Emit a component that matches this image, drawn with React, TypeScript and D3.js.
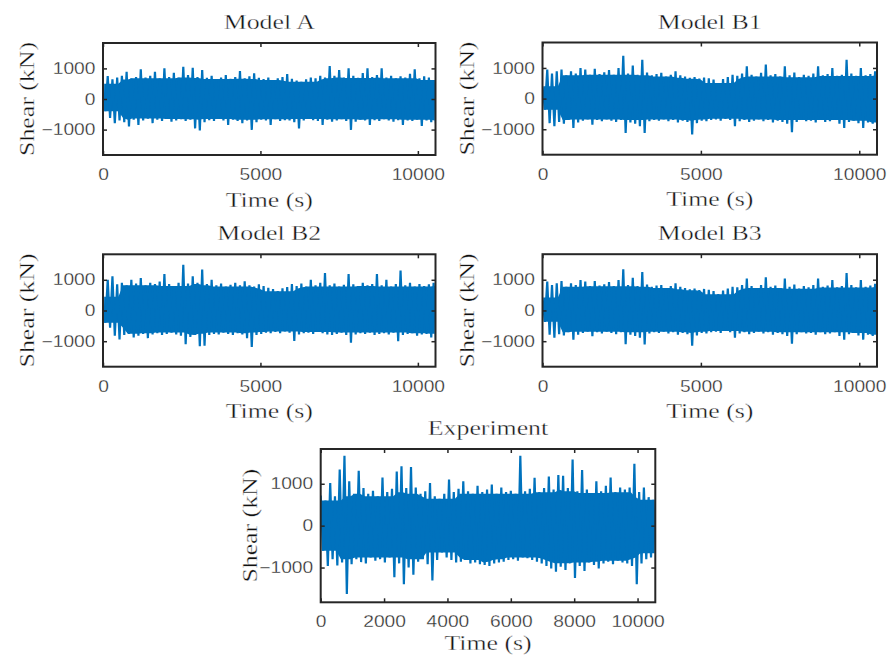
import React, { useRef, useEffect } from "react";
import * as d3 from "d3";

// each value is the max / min of the signal over one 150 s window
const binStep = 150;

const modelAHi = [500, 750, 640, 700, 760, 890, 680, 720, 970, 700, 760, 890, 680, 1000, 720, 860, 700, 1050, 780, 1020, 720, 950, 690, 760, 650, 700, 780, 660, 720, 910, 680, 740, 840, 690, 650, 700, 620, 680, 720, 815, 660, 600, 565, 640, 700, 680, 760, 700, 1075, 760, 950, 700, 1000, 760, 690, 850, 1000, 720, 780, 1000, 700, 760, 680, 740, 700, 820, 970, 680, 740, 700, 620];
const modelALo = [-400, -620, -790, -700, -760, -900, -680, -850, -700, -640, -790, -680, -720, -650, -740, -700, -660, -720, -680, -960, -1030, -760, -690, -720, -650, -700, -850, -680, -720, -790, -700, -1010, -760, -680, -700, -850, -660, -720, -690, -700, -760, -960, -700, -650, -690, -720, -850, -680, -740, -700, -660, -720, -1010, -740, -680, -700, -850, -690, -720, -660, -700, -740, -690, -850, -700, -720, -680, -880, -700, -760, -800];

const modelB1Hi = [400, 950, 820, 890, 950, 760, 890, 820, 1000, 950, 780, 970, 800, 860, 930, 780, 1000, 1400, 820, 1075, 780, 1270, 850, 760, 800, 840, 720, 780, 890, 760, 720, 680, 700, 650, 690, 660, 620, 510, 640, 700, 780, 740, 820, 1050, 780, 720, 840, 1110, 760, 800, 720, 1050, 760, 850, 700, 780, 740, 820, 1050, 760, 800, 1000, 740, 780, 1270, 820, 740, 1000, 760, 800, 890];
const modelB1Lo = [-360, -800, -900, -760, -820, -700, -960, -780, -720, -680, -850, -700, -740, -680, -720, -760, -700, -1120, -780, -820, -900, -1120, -740, -700, -720, -680, -740, -700, -780, -720, -760, -1170, -800, -720, -740, -700, -680, -720, -660, -700, -900, -740, -700, -760, -720, -680, -740, -700, -780, -720, -760, -820, -1100, -760, -700, -740, -720, -780, -700, -760, -740, -700, -820, -960, -760, -720, -800, -960, -780, -820, -850];

const modelB2Hi = [450, 1000, 1110, 850, 900, 820, 1000, 880, 1060, 820, 900, 860, 940, 1190, 860, 800, 900, 1490, 880, 1110, 900, 1330, 860, 1000, 820, 880, 780, 840, 900, 820, 950, 820, 780, 850, 800, 740, 700, 630, 720, 760, 860, 800, 880, 780, 1000, 820, 900, 1220, 820, 880, 780, 840, 1190, 850, 800, 900, 820, 860, 1190, 820, 1000, 780, 860, 1300, 820, 900, 780, 860, 800, 850, 900];
const modelB2Lo = [-400, -560, -820, -940, -800, -760, -880, -820, -760, -900, -780, -740, -800, -760, -720, -780, -820, -1100, -860, -800, -1160, -1150, -800, -760, -780, -720, -760, -800, -740, -780, -900, -1190, -800, -760, -720, -740, -700, -740, -680, -720, -990, -780, -740, -720, -760, -700, -740, -780, -800, -760, -720, -800, -1050, -780, -740, -760, -720, -800, -760, -740, -780, -720, -1000, -800, -760, -740, -820, -780, -760, -880, -990];

const modelB3Hi = [420, 940, 830, 880, 960, 770, 880, 830, 990, 940, 790, 960, 810, 850, 920, 790, 990, 1340, 830, 1060, 790, 1250, 840, 770, 810, 830, 730, 790, 880, 770, 730, 690, 710, 660, 700, 670, 630, 530, 650, 710, 770, 750, 830, 1040, 790, 730, 830, 1080, 770, 810, 730, 1040, 770, 840, 710, 790, 750, 830, 1040, 770, 810, 990, 750, 790, 1220, 830, 750, 990, 770, 810, 870];
const modelB3Lo = [-370, -790, -890, -770, -810, -710, -950, -790, -730, -690, -840, -710, -750, -690, -730, -770, -710, -1100, -790, -830, -890, -1110, -750, -710, -730, -690, -750, -710, -790, -730, -770, -1150, -810, -730, -750, -710, -690, -730, -670, -710, -890, -750, -710, -770, -730, -690, -750, -710, -790, -730, -770, -830, -1080, -770, -710, -750, -730, -790, -710, -770, -750, -710, -830, -950, -770, -730, -810, -950, -790, -830, -840];

const experimentHi = [720, 600, 1020, 700, 1340, 1670, 1060, 760, 1310, 900, 760, 830, 700, 1150, 800, 880, 1290, 1420, 900, 1400, 910, 760, 820, 1020, 700, 640, 760, 1100, 800, 880, 1060, 820, 760, 950, 800, 860, 980, 760, 910, 800, 830, 760, 1670, 820, 880, 1140, 800, 900, 1170, 860, 1210, 1190, 900, 1580, 820, 1330, 860, 780, 1060, 820, 950, 1150, 800, 910, 860, 910, 1480, 800, 910, 680, 620];
const experimentLo = [-600, -960, -800, -950, -880, -1630, -920, -800, -870, -900, -760, -840, -800, -880, -760, -1230, -900, -1400, -1000, -1170, -860, -800, -920, -1310, -820, -640, -760, -820, -880, -860, -820, -900, -880, -920, -940, -960, -900, -880, -860, -820, -800, -840, -760, -780, -820, -860, -900, -960, -1020, -1100, -980, -1060, -900, -1250, -960, -1080, -880, -940, -1020, -900, -860, -920, -840, -880, -900, -960, -1400, -900, -800, -760, -660];

const modelXTicks = [0, 5000, 10000];
const experimentXTicks = [0, 2000, 4000, 6000, 8000, 10000];
const yTicks = [-1000, 0, 1000];
const xDomain = [0, 10560];
const yDomain = [-1830, 1830];

const titles = ["Model A", "Model B1", "Model B2", "Model B3", "Experiment"];
const xLabel = "Time (s)";
const yLabel = "Shear (kN)";

const W = 891;
const H = 657;
const blue = "#0072BD";
const axisColor = "#262626";
const serif = "'Liberation Serif', 'Times New Roman', serif";
const sans = "'Liberation Sans', Arial, sans-serif";

const panels = [
  { title: titles[0], hi: modelAHi, lo: modelALo, xTicks: modelXTicks, left: 103, top: 43, w: 332.5, h: 112, xlGap: 51.5, ylGap: 69.5 },
  { title: titles[1], hi: modelB1Hi, lo: modelB1Lo, xTicks: modelXTicks, left: 542.5, top: 42.5, w: 334.5, h: 112.2, xlGap: 51.5, ylGap: 69 },
  { title: titles[2], hi: modelB2Hi, lo: modelB2Lo, xTicks: modelXTicks, left: 103, top: 254.3, w: 332.5, h: 112.4, xlGap: 51.5, ylGap: 69.5 },
  { title: titles[3], hi: modelB3Hi, lo: modelB3Lo, xTicks: modelXTicks, left: 542.5, top: 254.2, w: 334.5, h: 112.5, xlGap: 51.5, ylGap: 69 },
  { title: titles[4], hi: experimentHi, lo: experimentLo, xTicks: experimentXTicks, left: 320.7, top: 449, w: 334.6, h: 153.3, xlGap: 47.5, ylGap: 64 },
];

function App() {
  const ref = useRef<SVGSVGElement>(null);

  useEffect(() => {
    const svg = d3.select(ref.current);
    svg.selectAll("*").remove();
    svg.append("rect").attr("width", W).attr("height", H).attr("fill", "#fff");

    panels.forEach((p, k) => {
      const x = d3.scaleLinear().domain(xDomain).range([0, p.w]);
      const y = d3.scaleLinear().domain(yDomain).range([p.h, 0]);
      const g = svg.append("g").attr("transform", `translate(${p.left},${p.top})`);

      const clipId = `clip${k}`;
      g.append("clipPath").attr("id", clipId)
        .append("rect").attr("width", p.w).attr("height", p.h);

      const plot = g.append("g").attr("clip-path", `url(#${clipId})`);

      // solid core: the band that every window within +-3 reaches
      const n = p.hi.length;
      const core = p.hi.map((v, i) => {
        const win = d3.range(Math.max(0, i - 3), Math.min(n, i + 4));
        return {
          t: i * binStep + binStep / 4,
          top: d3.min(win, j => p.hi[j]),
          bot: d3.max(win, j => p.lo[j]),
        };
      });
      const area = d3.area<any>().x(d => x(d.t)).y0(d => y(d.bot)).y1(d => y(d.top));
      plot.append("path").attr("d", area(core)).attr("fill", blue);

      // zig-zag between the window max and min gives the spikes
      const pts: [number, number][] = [];
      p.hi.forEach((v, i) => {
        pts.push([i * binStep, v]);
        pts.push([i * binStep + binStep / 2, p.lo[i]]);
      });
      const line = d3.line<[number, number]>().x(d => x(d[0])).y(d => y(d[1]));
      plot.append("path")
        .attr("d", line(pts))
        .attr("fill", "none")
        .attr("stroke", blue)
        .attr("stroke-width", 2.2);

      const styleTicks = (sel, labels) => {
        sel.select(".domain").remove();
        sel.selectAll("line").attr("stroke", axisColor).attr("stroke-width", 1.5);
        if (labels) {
          sel.selectAll("text")
            .attr("fill", axisColor)
            .attr("font-family", sans)
            .attr("font-weight", "normal")
            .attr("font-size", 16)
            .attr("stroke", "#fff")
            .attr("stroke-width", 0.3)
            .attr("transform", "scale(1.2,1)");
        }
      };

      g.append("g").attr("transform", `translate(0,${p.h})`)
        .call(d3.axisBottom(x).tickValues(p.xTicks).tickSize(-4).tickSizeOuter(0).tickPadding(13.6).tickFormat(d3.format("d")))
        .call(s => styleTicks(s, true));
      g.append("g")
        .call(d3.axisTop(x).tickValues(p.xTicks).tickSize(-4).tickSizeOuter(0).tickFormat(() => ""))
        .call(s => styleTicks(s, false));
      g.append("g")
        .call(d3.axisLeft(y).tickValues(yTicks).tickSize(-4).tickSizeOuter(0).tickPadding(6.3).tickFormat(d3.format("d")))
        .call(s => styleTicks(s, true));
      g.append("g").attr("transform", `translate(${p.w},0)`)
        .call(d3.axisRight(y).tickValues(yTicks).tickSize(-4).tickSizeOuter(0).tickFormat(() => ""))
        .call(s => styleTicks(s, false));

      g.append("rect")
        .attr("width", p.w).attr("height", p.h)
        .attr("fill", "none")
        .attr("stroke", axisColor)
        .attr("stroke-width", 2);

      const label = (txt, tx, ty, rot) =>
        g.append("text")
          .attr("transform", `translate(${tx},${ty})${rot ? " rotate(-90)" : ""} scale(1.23,1)`)
          .attr("text-anchor", "middle")
          .attr("font-family", serif)
          .attr("font-weight", "normal")
          .attr("font-size", 21)
          .attr("fill", "#111")
          .attr("stroke", "#fff")
          .attr("stroke-width", 0.35)
          .text(txt);

      label(p.title, p.w / 2, -14, false);
      label(xLabel, p.w / 2, p.h + p.xlGap, false);
      label(yLabel, -p.ylGap, p.h / 2, true);
    });
  }, []);

  return (
    <svg ref={ref} width={W} height={H} style={{ position: "absolute", left: 0, top: 0, display: "block" }} />
  );
}

export default App;
